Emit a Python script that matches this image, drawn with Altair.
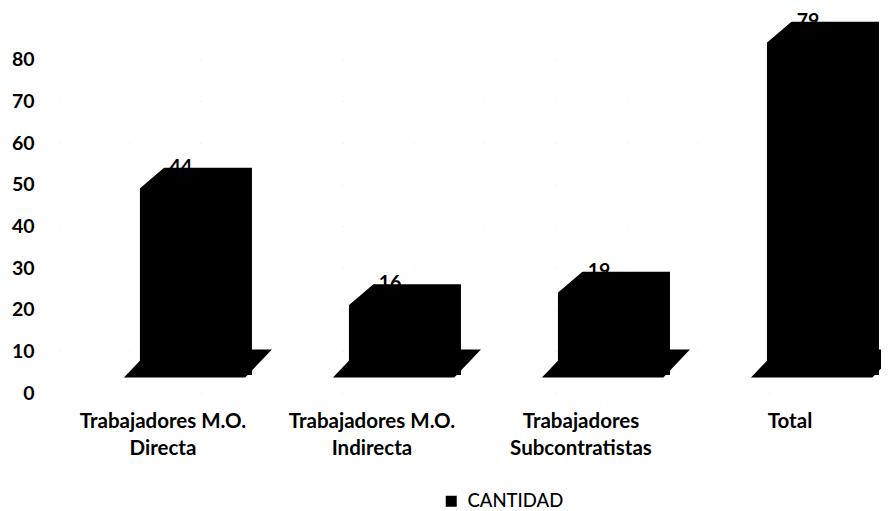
import altair as alt
import pandas as pd

categorias = [
    "Trabajadores M.O. Directa",
    "Trabajadores M.O. Indirecta",
    "Trabajadores Subcontratistas",
    "Total",
]
cantidad = [44, 16, 19, 79]
serie = ["CANTIDAD", "CANTIDAD", "CANTIDAD", "CANTIDAD"]
y_ticks = [0, 10, 20, 30, 40, 50, 60, 70, 80]

df = pd.DataFrame({"categoria": categorias, "cantidad": cantidad, "serie": serie})
df["cero"] = 0

FONT = "Lato"

x_enc = alt.X(
    "categoria:N",
    sort=categorias,
    scale=alt.Scale(paddingInner=0.464, paddingOuter=0.117, align=1),
    axis=alt.Axis(
        title=None,
        labelAngle=0,
        domain=False,
        ticks=False,
        labelFont=FONT,
        labelFontSize=20.5,
        labelFontWeight="bold",
        labelColor="black",
        labelPadding=18,
        labelLineHeight=27,
        labelLimit=0,
        labelExpr="split(replace(replace(datum.label, 'M.O. ', 'M.O.|'), 'Trabajadores Subcontratistas', 'Trabajadores|Subcontratistas'), '|')",
    ),
)

y_scale = alt.Scale(domain=[0, 90], nice=False)
y_axis = alt.Axis(
    title=None,
    values=y_ticks,
    domain=False,
    ticks=False,
    labelFont=FONT,
    labelFontSize=19.5,
    labelFontWeight="bold",
    labelColor="black",
    labelPadding=24,
    grid=True,
    gridColor="#c8c8c8",
    gridDash=[1, 70],
    gridOpacity=0.4,
)

base = alt.Chart(df)

plates = base.mark_point(
    shape="M-1,0.19 L0.64,0.19 L1,-0.19 L-0.64,-0.19 Z",
    size=21904,
    filled=True,
    color="black",
    opacity=1,
    strokeWidth=0,
    xOffset=35,
    yOffset=-29.5,
).encode(x=x_enc, y=alt.Y("cero:Q", scale=y_scale, axis=y_axis))

bars = base.mark_bar(
    yOffset=-42,
    y2Offset=-18,
    xOffset=33,
    x2Offset=33,
).encode(
    x=x_enc,
    y=alt.Y("cantidad:Q", scale=y_scale, axis=y_axis),
    y2=alt.Y2("cero:Q"),
    color=alt.Color(
        "serie:N",
        scale=alt.Scale(domain=["CANTIDAD"], range=["black"]),
        legend=alt.Legend(
            title=None,
            orient="none",
            legendX=384,
            legendY=474,
            symbolType="square",
            symbolSize=121,
            symbolStrokeWidth=0,
            labelFont=FONT,
            labelFontSize=18.5,
            labelFontWeight=500,
            labelColor="black",
            labelOffset=7,
            padding=0,
        ),
    ),
)

corners = base.mark_point(
    shape="M-1,-0.85 L1,-0.85 L-1,0.85 Z",
    size=841,
    filled=True,
    color="white",
    opacity=1,
    strokeWidth=0,
    xOffset=-11,
    yOffset=-31.5,
).encode(x=x_enc, y=alt.Y("cantidad:Q", scale=y_scale, axis=y_axis))

labels = base.mark_text(
    font=FONT,
    fontSize=19.5,
    fontWeight="bold",
    color="black",
    baseline="alphabetic",
    align="center",
    dx=18,
    dy=-37,
).encode(x=x_enc, y=alt.Y("cantidad:Q", scale=y_scale, axis=y_axis), text="cantidad:Q")

chart = (
    alt.layer(plates, bars, corners, labels)
    .properties(
        width=788,
        height=375,
        padding={"left": 50, "top": 10, "right": 35, "bottom": 118},
        autosize=alt.AutoSizeParams(type="none"),
        background="white",
    )
    .configure_view(stroke=None)
)

chart.save("out.html", embed_options={"renderer": "svg", "actions": False})
